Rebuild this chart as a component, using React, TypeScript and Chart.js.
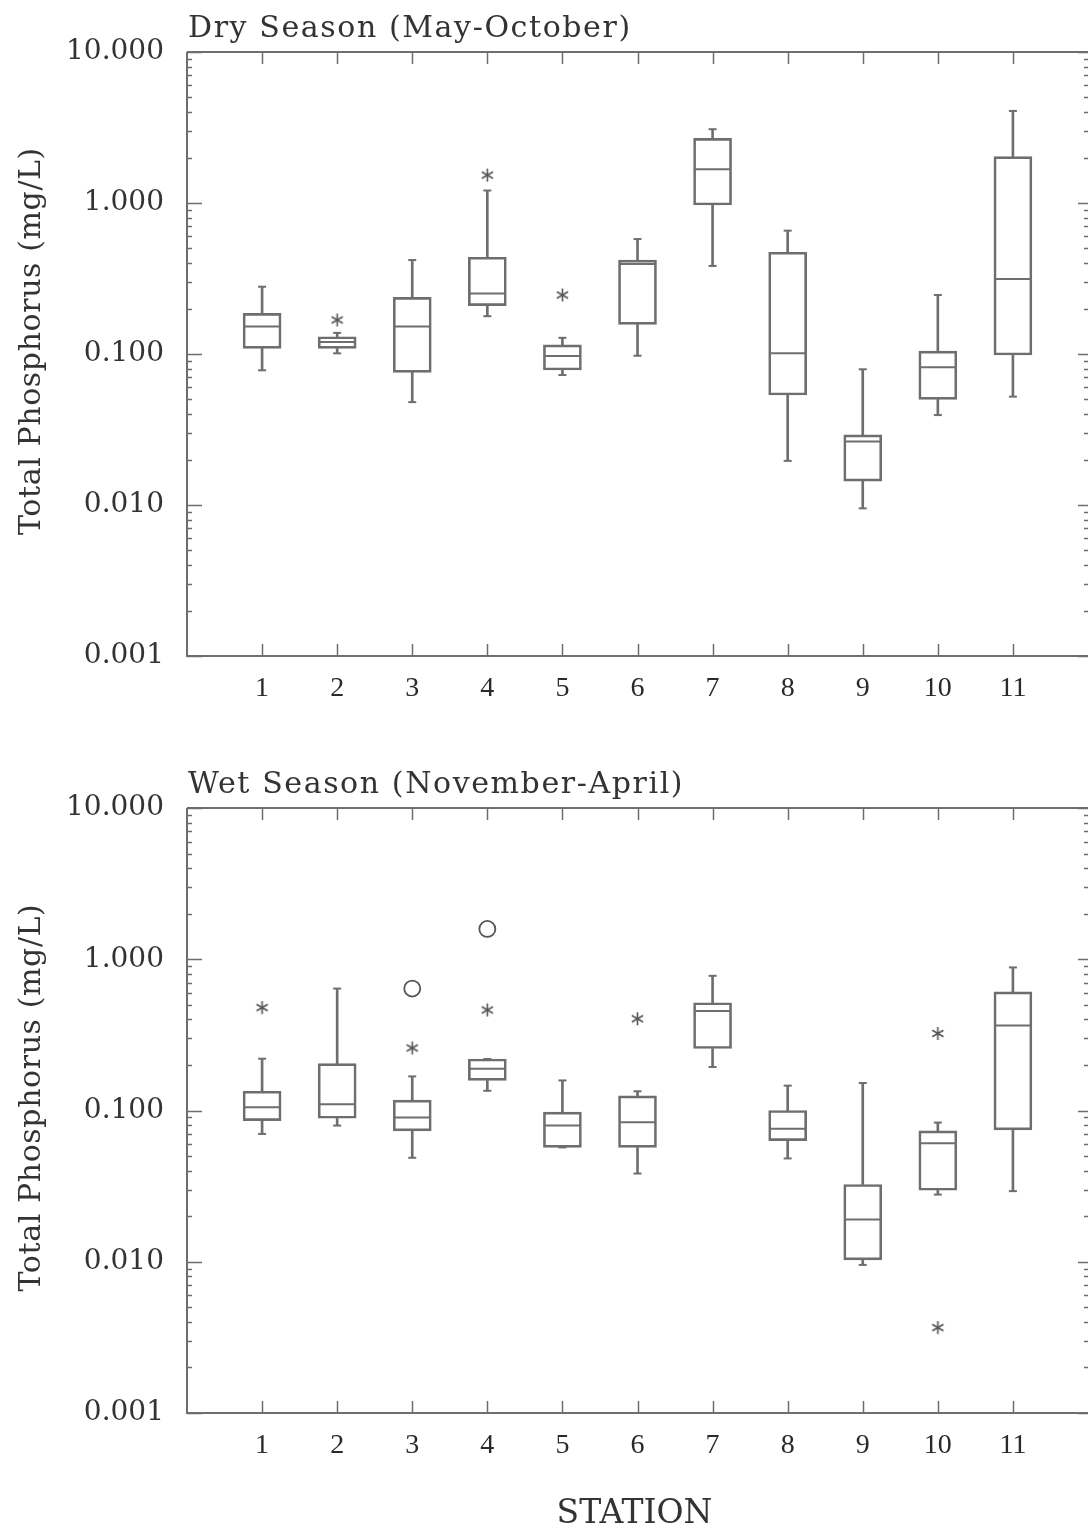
import React, { useEffect, useRef } from 'react';
import { Chart, registerables } from 'chart.js';

Chart.register(...registerables);

// ---------- data ----------
const stations = [1, 2, 3, 4, 5, 6, 7, 8, 9, 10, 11];
const yAxisDecades = [0.001, 0.01, 0.1, 1, 10];

// Dry season (May-October)
const dryWhiskerLow = [0.078, 0.101, 0.048, 0.178, 0.0726, 0.0974, 0.383, 0.0196, 0.0095, 0.0394, 0.0522];
const dryQ1 = [0.109, 0.109, 0.0756, 0.209, 0.0783, 0.157, 0.97, 0.0535, 0.0144, 0.0501, 0.0985];
const dryMedian = [0.152, 0.12, 0.152, 0.252, 0.097, 0.394, 1.67, 0.101, 0.0263, 0.0817, 0.314];
const dryQ3 = [0.186, 0.13, 0.237, 0.437, 0.115, 0.419, 2.68, 0.472, 0.0291, 0.1046, 2.03];
const dryWhiskerHigh = [0.279, 0.138, 0.419, 1.21, 0.128, 0.577, 3.08, 0.656, 0.0792, 0.246, 4.07];
const dryStarStations = [2, 4, 5];
const dryStarValues = [0.168, 1.53, 0.246];
const dryCircleStations: number[] = [];
const dryCircleValues: number[] = [];

// Wet season (November-April)
const wetWhiskerLow = [0.07, 0.0795, 0.0487, 0.135, 0.057, 0.0383, 0.194, 0.0482, 0.00953, 0.0278, 0.0293];
const wetQ1 = [0.0858, 0.0889, 0.0733, 0.158, 0.057, 0.057, 0.257, 0.0632, 0.01028, 0.0297, 0.0744];
const wetMedian = [0.105, 0.11, 0.0898, 0.189, 0.0795, 0.0836, 0.455, 0.0756, 0.019, 0.0607, 0.365];
const wetQ3 = [0.134, 0.204, 0.117, 0.219, 0.0975, 0.125, 0.516, 0.1, 0.0324, 0.0733, 0.608];
const wetWhiskerHigh = [0.22, 0.64, 0.168, 0.219, 0.158, 0.134, 0.777, 0.146, 0.152, 0.0832, 0.883];
const wetStarStations = [1, 3, 4, 6, 10, 10];
const wetStarValues = [0.479, 0.259, 0.462, 0.404, 0.323, 0.00367];
const wetCircleStations = [3, 4];
const wetCircleValues = [0.64, 1.586];

const dryTitle = 'Dry Season (May-October)';
const wetTitle = 'Wet Season (November-April)';
const yTitle = 'Total Phosphorus (mg/L)';
const xTitle = 'STATION';

// ---------- styling ----------
const LINE = '#6e6e6e';
const TEXT = '#333333';
const SERIF = '"DejaVu Serif", serif';

function makeAsterisk(size: number, color: string, lw: number) {
  const c = document.createElement('canvas');
  c.width = size;
  c.height = size;
  const ctx = c.getContext('2d')!;
  ctx.strokeStyle = color;
  ctx.lineWidth = lw;
  ctx.lineCap = 'butt';
  const cx = size / 2;
  const r = size / 2 - 1;
  for (const deg of [90, 30, 150]) {
    const rad = (deg * Math.PI) / 180;
    ctx.beginPath();
    ctx.moveTo(cx - r * Math.cos(rad), cx - r * Math.sin(rad));
    ctx.lineTo(cx + r * Math.cos(rad), cx + r * Math.sin(rad));
    ctx.stroke();
  }
  return c;
}

function isDecade(v: number) {
  const l = Math.log10(v);
  return Math.abs(l - Math.round(l)) < 1e-6;
}

const framePlugin = {
  id: 'frameAndLabels',
  afterDraw(chart: any, _args: any, opts: any) {
    const { ctx, chartArea: a, scales } = chart;
    const xs = scales.x;
    const ys = scales.y;
    ctx.save();
    ctx.strokeStyle = LINE;
    ctx.lineWidth = 2;
    ctx.beginPath();
    ctx.moveTo(a.left, a.top);
    ctx.lineTo(a.right, a.top);
    ctx.moveTo(a.left, a.top);
    ctx.lineTo(a.left, a.bottom);
    ctx.lineTo(a.right, a.bottom);
    ctx.stroke();

    // inward log ticks on left and right
    ctx.lineWidth = 1.5;
    ctx.beginPath();
    for (let d = 0; d < yAxisDecades.length; d++) {
      const base = yAxisDecades[d];
      for (let m = 1; m <= 9; m++) {
        const v = base * m;
        if (v > yAxisDecades[yAxisDecades.length - 1] * 1.0001) break;
        const py = Math.round(ys.getPixelForValue(v)) + 0.5;
        const major = m === 1;
        ctx.moveTo(a.left, py);
        ctx.lineTo(a.left + (major ? 15 : 5), py);
        ctx.moveTo(a.right, py);
        ctx.lineTo(a.right - (major ? 10 : 4), py);
      }
    }
    // station ticks on top and bottom
    for (const s of stations) {
      const px = Math.round(xs.getPixelForValue(s)) + 0.5;
      ctx.moveTo(px, a.bottom);
      ctx.lineTo(px, a.bottom - 12);
      ctx.moveTo(px, a.top);
      ctx.lineTo(px, a.top + 12);
    }
    ctx.stroke();

    // panel title
    ctx.fillStyle = TEXT;
    ctx.font = `30px ${SERIF}`;
    (ctx as any).letterSpacing = '1.6px';
    ctx.textAlign = 'left';
    ctx.textBaseline = 'alphabetic';
    ctx.fillText(opts.title, a.left + 1, a.top - 15);

    // y-axis title
    (ctx as any).letterSpacing = '0.6px';
    ctx.save();
    ctx.translate(40, (a.top + a.bottom) / 2 - 13);
    ctx.rotate(-Math.PI / 2);
    ctx.textAlign = 'center';
    ctx.font = `30px ${SERIF}`;
    ctx.fillText(yTitle, 0, 0);
    ctx.restore();

    if (opts.showX) {
      (ctx as any).letterSpacing = '0px';
      ctx.font = `33px ${SERIF}`;
      ctx.textAlign = 'center';
      ctx.fillText(xTitle, (a.left + a.right) / 2 - 3, a.bottom + 110);
    }
    ctx.restore();
  },
};

interface PanelData {
  wl: number[];
  q1: number[];
  med: number[];
  q3: number[];
  wh: number[];
  starS: number[];
  starV: number[];
  circS: number[];
  circV: number[];
  title: string;
  xAxisHeight: number;
  showX: boolean;
}

function makePanel(canvas: HTMLCanvasElement, p: PanelData) {
  const asterisk = makeAsterisk(15, '#555555', 1.6);
  const caps = [
    ...stations.map((s, i) => ({ x: s, y: p.wl[i] })),
    ...stations.map((s, i) => ({ x: s, y: p.wh[i] })),
  ];
  const datasets: any[] = [
    {
      type: 'bar',
      label: 'upper whisker',
      data: stations.map((s, i) => ({ x: s, y: [p.q3[i], p.wh[i]] })),
      barThickness: 2,
      backgroundColor: LINE,
      borderWidth: 0,
      grouped: false,
    },
    {
      type: 'bar',
      label: 'lower whisker',
      data: stations.map((s, i) => ({ x: s, y: [p.wl[i], p.q1[i]] })),
      barThickness: 2,
      backgroundColor: LINE,
      borderWidth: 0,
      grouped: false,
    },
    {
      type: 'bar',
      label: 'box',
      data: stations.map((s, i) => ({ x: s, y: [p.q1[i], p.q3[i]] })),
      barThickness: 38,
      backgroundColor: 'rgba(0,0,0,0)',
      borderColor: LINE,
      borderWidth: 2,
      borderSkipped: false,
      grouped: false,
    },
    {
      type: 'scatter',
      label: 'median',
      data: stations.map((s, i) => ({ x: s, y: p.med[i] })),
      pointStyle: 'line',
      pointRadius: 18,
      borderColor: LINE,
      pointBorderColor: LINE,
      borderWidth: 2,
      pointBorderWidth: 2,
    },
    {
      type: 'scatter',
      label: 'caps',
      data: caps,
      pointStyle: 'line',
      pointRadius: 4,
      borderColor: LINE,
      pointBorderColor: LINE,
      pointBorderWidth: 2,
    },
    {
      type: 'scatter',
      label: 'outliers *',
      data: p.starS.map((s, i) => ({ x: s, y: p.starV[i] })),
      pointStyle: asterisk,
    },
    {
      type: 'scatter',
      label: 'outliers o',
      data: p.circS.map((s, i) => ({ x: s, y: p.circV[i] })),
      pointStyle: 'circle',
      pointRadius: 8,
      pointBackgroundColor: 'rgba(0,0,0,0)',
      pointBorderColor: '#555555',
      pointBorderWidth: 1.8,
    },
  ];

  return new Chart(canvas, {
    type: 'bar',
    data: { datasets },
    plugins: [framePlugin],
    options: {
      animation: false,
      responsive: false,
      events: [],
      layout: { autoPadding: false, padding: { top: 52, left: 0, right: 0, bottom: 0 } },
      plugins: {
        legend: { display: false },
        tooltip: { enabled: false },
        frameAndLabels: { title: p.title, showX: p.showX },
      } as any,
      scales: {
        x: {
          type: 'linear',
          min: 0,
          max: 12,
          offset: false,
          grid: {
            display: true,
            drawOnChartArea: false,
            drawTicks: true,
            tickLength: 16,
            tickColor: 'rgba(0,0,0,0)',
            color: 'rgba(0,0,0,0)',
            offset: false,
          },
          border: { display: false },
          afterFit: (s: any) => {
            s.height = p.xAxisHeight;
            s.paddingLeft = 0;
            s.paddingRight = 0;
          },
          ticks: {
            stepSize: 1,
            autoSkip: false,
            maxRotation: 0,
            minRotation: 0,
            padding: 0,
            color: '#2a2a2a',
            font: { family: '"Liberation Serif", serif', size: 28 },
            callback: (v: any) => (v >= 1 && v <= 11 ? String(v) : ''),
          },
        },
        y: {
          type: 'logarithmic',
          min: 0.001,
          max: 10,
          grid: { display: false },
          border: { display: false },
          afterFit: (s: any) => {
            s.width = 187;
            s.paddingTop = 0;
            s.paddingBottom = 0;
          },
          ticks: {
            autoSkip: false,
            padding: 15,
            color: TEXT,
            font: { family: SERIF, size: 28 },
            callback: (v: any) => (isDecade(Number(v)) ? Number(v).toFixed(3) : ''),
          },
        },
      },
    } as any,
  });
}

export default function App() {
  const topRef = useRef<HTMLCanvasElement>(null);
  const botRef = useRef<HTMLCanvasElement>(null);

  useEffect(() => {
    const top = makePanel(topRef.current!, {
      wl: dryWhiskerLow,
      q1: dryQ1,
      med: dryMedian,
      q3: dryQ3,
      wh: dryWhiskerHigh,
      starS: dryStarStations,
      starV: dryStarValues,
      circS: dryCircleStations,
      circV: dryCircleValues,
      title: dryTitle,
      xAxisHeight: 74,
      showX: false,
    });
    const bottom = makePanel(botRef.current!, {
      wl: wetWhiskerLow,
      q1: wetQ1,
      med: wetMedian,
      q3: wetQ3,
      wh: wetWhiskerHigh,
      starS: wetStarStations,
      starV: wetStarValues,
      circS: wetCircleStations,
      circV: wetCircleValues,
      title: wetTitle,
      xAxisHeight: 115,
      showX: true,
    });
    return () => {
      top.destroy();
      bottom.destroy();
    };
  }, []);

  return (
    <div style={{ position: 'absolute', left: 0, top: 0, width: 1088, height: 1528, background: '#ffffff', overflow: 'hidden' }}>
      <canvas ref={topRef} width={1088} height={730} style={{ position: 'absolute', left: 0, top: 0, width: 1088, height: 730 }} />
      <canvas ref={botRef} width={1088} height={772} style={{ position: 'absolute', left: 0, top: 756, width: 1088, height: 772 }} />
    </div>
  );
}
